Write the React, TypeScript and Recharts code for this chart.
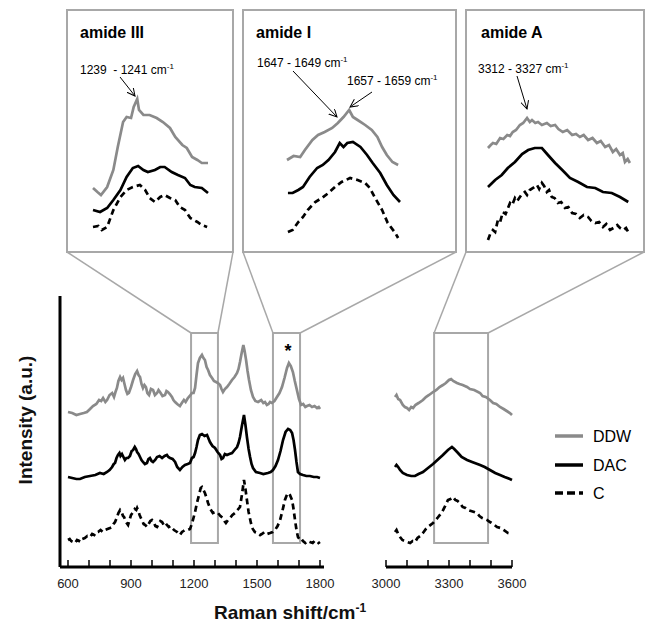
import React from "react";
import { LineChart, Line, XAxis, YAxis, ReferenceArea } from "recharts";

// x-axis ticks (Raman shift, cm-1)
const leftTicks = [600, 700, 800, 900, 1000, 1100, 1200, 1300, 1400, 1500, 1600, 1700, 1800];
const rightTicks = [3000, 3100, 3200, 3300, 3400, 3500, 3600];

// main panel, 600-1800 cm-1 (intensity a.u., traces offset)
const ddwLeftX = [600, 620, 640, 657, 675, 690, 705, 719, 735, 748, 758, 767, 778, 786, 798, 810, 819, 826, 833, 840, 848, 855, 862, 869, 876, 883, 890, 900, 910, 920, 929, 936, 943, 950, 957, 964, 971, 978, 986, 995, 1005, 1014, 1024, 1031, 1038, 1050, 1062, 1069, 1076, 1085, 1095, 1102, 1110, 1120, 1133, 1142, 1152, 1160, 1171, 1180, 1190, 1198, 1205, 1212, 1219, 1228, 1238, 1245, 1252, 1260, 1267, 1276, 1286, 1295, 1305, 1314, 1324, 1331, 1338, 1347, 1357, 1368, 1381, 1393, 1405, 1412, 1419, 1427, 1435, 1441, 1448, 1455, 1462, 1471, 1481, 1492, 1505, 1520, 1530, 1538, 1547, 1555, 1562, 1571, 1583, 1595, 1607, 1619, 1631, 1643, 1652, 1661, 1671, 1680, 1690, 1700, 1710, 1720, 1730, 1738, 1750, 1762, 1774, 1786, 1794, 1800];
const ddwLeftY = [155, 154, 152, 153, 154, 155, 158, 161, 163, 167, 166, 169, 165, 167, 172, 174, 170, 175, 179, 186, 190, 187, 189, 183, 177, 173, 174, 180, 187, 193, 196, 192, 190, 183, 179, 182, 180, 174, 172, 178, 177, 172, 174, 177, 175, 171, 172, 176, 175, 173, 170, 167, 165, 163, 161, 164, 167, 165, 169, 171, 174, 174, 179, 192, 204, 209, 212, 209, 207, 200, 197, 192, 189, 186, 185, 184, 182, 178, 175, 178, 180, 183, 187, 190, 194, 198, 205, 214, 222, 216, 207, 196, 187, 177, 170, 166, 165, 167, 164, 165, 162, 163, 165, 164, 166, 170, 174, 180, 189, 199, 204, 201, 195, 186, 177, 168, 162, 163, 160, 161, 162, 160, 161, 159, 160, 158];

const dacLeftX = [600, 620, 640, 657, 680, 705, 730, 752, 770, 786, 798, 810, 818, 824, 831, 838, 845, 850, 857, 864, 871, 878, 886, 895, 903, 910, 918, 924, 929, 936, 943, 950, 957, 966, 976, 983, 990, 998, 1005, 1015, 1024, 1036, 1048, 1060, 1071, 1078, 1086, 1098, 1110, 1120, 1133, 1145, 1157, 1170, 1181, 1190, 1198, 1205, 1212, 1219, 1228, 1238, 1250, 1262, 1270, 1276, 1288, 1300, 1312, 1324, 1331, 1338, 1347, 1357, 1368, 1381, 1393, 1405, 1412, 1419, 1428, 1438, 1445, 1452, 1460, 1467, 1474, 1481, 1495, 1514, 1530, 1552, 1565, 1576, 1588, 1600, 1612, 1624, 1636, 1648, 1658, 1667, 1674, 1681, 1688, 1695, 1705, 1719, 1735, 1752, 1770, 1786, 1800];
const dacLeftY = [90, 89, 88, 88, 90, 91, 92, 94, 93, 95, 97, 100, 103, 104, 109, 112, 114, 111, 113, 110, 107, 109, 109, 111, 116, 117, 120, 118, 115, 113, 110, 107, 105, 103, 104, 108, 109, 106, 105, 107, 110, 111, 109, 111, 112, 110, 109, 108, 105, 100, 97, 100, 102, 103, 104, 109, 110, 114, 120, 127, 132, 133, 131, 132, 128, 125, 121, 119, 115, 112, 108, 109, 113, 112, 113, 114, 117, 120, 124, 130, 141, 152, 142, 130, 118, 110, 103, 99, 95, 94, 93, 94, 95, 97, 101, 107, 116, 127, 135, 138, 137, 134, 127, 117, 105, 95, 93, 92, 91, 91, 90, 90, 89];

const cLeftX = [600, 608, 615, 625, 633, 643, 652, 660, 667, 680, 692, 705, 715, 725, 735, 743, 755, 765, 776, 788, 800, 810, 817, 824, 832, 840, 848, 855, 862, 867, 876, 886, 893, 900, 910, 918, 925, 929, 935, 941, 947, 952, 960, 968, 976, 984, 992, 1000, 1008, 1016, 1024, 1032, 1040, 1048, 1056, 1064, 1071, 1080, 1088, 1095, 1105, 1112, 1119, 1126, 1133, 1143, 1150, 1157, 1170, 1181, 1188, 1195, 1205, 1214, 1225, 1232, 1238, 1245, 1252, 1260, 1267, 1278, 1290, 1302, 1314, 1326, 1338, 1345, 1352, 1362, 1371, 1383, 1395, 1407, 1419, 1428, 1438, 1445, 1452, 1460, 1471, 1480, 1490, 1505, 1515, 1524, 1535, 1548, 1562, 1575, 1586, 1598, 1610, 1622, 1633, 1640, 1648, 1657, 1667, 1674, 1681, 1688, 1695, 1705, 1712, 1719, 1730, 1740, 1752, 1765, 1774, 1786, 1793, 1800];
const cLeftY = [27, 28, 26, 25, 24, 27, 26, 29, 28, 29, 31, 30, 33, 32, 35, 35, 37, 35, 37, 38, 39, 40, 43, 45, 49, 54, 57, 55, 51, 50, 45, 42, 47, 52, 55, 58, 57, 59, 56, 52, 49, 47, 43, 42, 40, 43, 46, 47, 45, 41, 40, 43, 46, 45, 42, 44, 42, 40, 41, 39, 37, 36, 35, 33, 32, 35, 36, 37, 37, 38, 42, 47, 55, 64, 73, 79, 80, 77, 74, 69, 64, 58, 54, 55, 54, 51, 49, 46, 44, 47, 49, 52, 54, 57, 60, 72, 87, 78, 67, 55, 44, 38, 35, 34, 32, 33, 35, 33, 34, 35, 37, 41, 47, 57, 67, 71, 74, 72, 67, 58, 47, 37, 30, 27, 28, 26, 24, 26, 25, 24, 26, 26, 24, 25];

// main panel, 3000-3600 cm-1
const ddwRightX = [3043, 3050, 3058, 3067, 3080, 3090, 3100, 3110, 3120, 3129, 3140, 3155, 3176, 3190, 3205, 3224, 3240, 3255, 3271, 3285, 3300, 3310, 3320, 3338, 3350, 3365, 3386, 3400, 3420, 3448, 3460, 3475, 3495, 3510, 3525, 3543, 3560, 3575, 3590, 3600];
const ddwRightY = [170, 172, 168, 167, 162, 160, 159, 157, 160, 159, 162, 164, 167, 170, 172, 175, 177, 180, 182, 184, 187, 188, 186, 184, 183, 182, 180, 178, 177, 174, 171, 170, 167, 164, 163, 160, 158, 156, 154, 152];
const dacRightX = [3043, 3050, 3058, 3067, 3080, 3100, 3120, 3138, 3155, 3176, 3200, 3224, 3250, 3271, 3295, 3314, 3325, 3343, 3360, 3386, 3410, 3448, 3470, 3495, 3520, 3543, 3565, 3590, 3600];
const dacRightY = [100, 102, 100, 97, 94, 92, 91, 91, 93, 95, 99, 103, 108, 112, 117, 120, 118, 114, 110, 107, 105, 102, 100, 97, 94, 92, 90, 88, 87];
const cRightX = [3043, 3050, 3058, 3067, 3078, 3090, 3100, 3115, 3127, 3138, 3150, 3163, 3176, 3190, 3205, 3224, 3245, 3267, 3282, 3295, 3307, 3319, 3330, 3341, 3352, 3365, 3378, 3390, 3405, 3420, 3433, 3445, 3458, 3481, 3495, 3510, 3529, 3545, 3560, 3581, 3600];
const cRightY = [35, 37, 33, 30, 27, 26, 25, 24, 26, 25, 29, 31, 34, 38, 41, 44, 49, 55, 61, 67, 68, 70, 67, 66, 64, 60, 59, 57, 56, 55, 54, 51, 49, 47, 45, 43, 40, 39, 37, 34, 33];

// inset: amide III
const ddwA3X = [1190, 1195, 1199, 1206, 1213, 1218, 1224, 1228, 1233, 1236, 1240, 1242, 1247, 1254, 1262, 1269, 1277, 1283, 1291, 1296, 1302, 1308, 1313, 1320];
const ddwA3Y = [64, 60, 57, 65, 82, 105, 130, 135, 134, 145, 153, 142, 137, 137, 134, 130, 124, 115, 107, 104, 95, 92, 89, 89];
const dacA3X = [1190, 1198, 1206, 1213, 1221, 1228, 1235, 1241, 1247, 1252, 1260, 1266, 1271, 1279, 1286, 1294, 1300, 1305, 1313, 1320];
const dacA3Y = [42, 40, 44, 52, 62, 75, 84, 86, 82, 80, 82, 85, 85, 80, 77, 74, 67, 65, 64, 59];
const cA3X = [1190, 1196, 1200, 1206, 1213, 1221, 1228, 1235, 1243, 1249, 1254, 1260, 1266, 1271, 1277, 1283, 1288, 1294, 1300, 1308, 1313, 1319];
const cA3Y = [25, 26, 22, 25, 42, 55, 62, 65, 67, 62, 54, 50, 55, 57, 54, 52, 45, 42, 34, 30, 27, 25];

// inset: amide I
const ddwA1X = [1580, 1587, 1594, 1599, 1607, 1613, 1620, 1628, 1634, 1640, 1646, 1650, 1655, 1663, 1670, 1676, 1681, 1686, 1692, 1698];
const ddwA1Y = [92, 96, 95, 102, 112, 117, 120, 124, 129, 135, 142, 135, 132, 127, 122, 115, 105, 97, 90, 87];
const dacA1X = [1581, 1586, 1592, 1597, 1604, 1612, 1618, 1624, 1631, 1636, 1640, 1644, 1650, 1658, 1665, 1671, 1679, 1686, 1693, 1700];
const dacA1Y = [59, 59, 62, 65, 75, 84, 87, 92, 100, 109, 105, 109, 110, 105, 97, 89, 79, 67, 57, 50];
const cA1X = [1581, 1586, 1592, 1597, 1602, 1610, 1617, 1624, 1631, 1638, 1647, 1655, 1663, 1668, 1673, 1681, 1687, 1695, 1698];
const cA1Y = [20, 22, 30, 35, 42, 50, 54, 59, 65, 70, 74, 72, 69, 64, 55, 42, 29, 19, 14];

// inset: amide A
const ddwAAX = [3230, 3235, 3239, 3245, 3252, 3258, 3265, 3270, 3275, 3281, 3288, 3294, 3301, 3306, 3310, 3316, 3321, 3328, 3337, 3344, 3352, 3358, 3366, 3374, 3383, 3390, 3397, 3404, 3412, 3420, 3428, 3435, 3443, 3450, 3457, 3463, 3470, 3475, 3479, 3484, 3488];
const ddwAAY = [104, 107, 109, 108, 114, 113, 117, 116, 120, 122, 127, 129, 134, 130, 132, 129, 130, 127, 129, 126, 127, 123, 120, 122, 117, 118, 115, 117, 112, 114, 109, 111, 105, 107, 100, 103, 97, 99, 90, 93, 89];
const dacAAX = [3230, 3243, 3255, 3266, 3279, 3292, 3303, 3315, 3328, 3339, 3352, 3365, 3379, 3394, 3410, 3425, 3439, 3455, 3470, 3485];
const dacAAY = [65, 72, 77, 84, 90, 98, 102, 104, 104, 97, 89, 82, 74, 70, 65, 64, 60, 59, 55, 50];
const cAAX = [3230, 3234, 3239, 3243, 3248, 3252, 3257, 3262, 3270, 3274, 3279, 3283, 3288, 3292, 3297, 3301, 3306, 3312, 3319, 3323, 3328, 3332, 3337, 3341, 3346, 3351, 3357, 3363, 3370, 3376, 3383, 3390, 3397, 3404, 3412, 3418, 3425, 3432, 3439, 3445, 3452, 3458, 3465, 3470, 3476, 3481, 3485];
const cAAY = [12, 18, 22, 20, 32, 30, 40, 38, 49, 47, 54, 51, 55, 58, 60, 57, 62, 64, 67, 63, 69, 66, 60, 62, 55, 54, 49, 50, 44, 45, 39, 38, 34, 37, 35, 31, 29, 30, 25, 28, 22, 24, 27, 24, 22, 24, 20];

// highlighted regions
const amide3Range = [1186, 1314];
const amide1Range = [1576, 1705];
const amideARange = [3229, 3486];
const boxLow = 24;
const boxHigh = 234;

const pts = (xs: number[], ys: number[]) => xs.map((x, i) => ({ x, y: ys[i] }));

const FONT = "Arial, 'Liberation Sans', Helvetica, sans-serif";
const GREY = "#8a8a8a";
const FRAME = "#a8a8a8";

// layout (px)
const TOP = 296;
const BOTTOM = 567;
const leftPx = (v: number) => 68 + ((v - 600) * 252) / 1200;
const rightPx = (v: number) => 386 + ((v - 3000) * 126) / 600;
const mainPy = (v: number) => BOTTOM - ((BOTTOM - TOP) * v) / 271;

const AxisTick = (props: any) => {
  const { x, y, payload } = props;
  const v = payload.value;
  const show = v % 300 === 0;
  return (
    <g>
      <line x1={x} x2={x} y1={y - 7} y2={y} stroke="#000" strokeWidth={1.5} />
      {show && (
        <text x={x} y={y + 21} textAnchor="middle" fontSize={13} fill="#222" fontFamily={FONT}>
          {v}
        </text>
      )}
    </g>
  );
};

const series = (ddw: any[], dac: any[], c: any[]) => [
  <Line key="ddw" data={ddw} dataKey="y" type="linear" stroke={GREY} strokeWidth={2.7} dot={false} isAnimationActive={false} />,
  <Line key="dac" data={dac} dataKey="y" type="linear" stroke="#000" strokeWidth={2.7} dot={false} isAnimationActive={false} />,
  <Line key="c" data={c} dataKey="y" type="linear" stroke="#000" strokeWidth={2.7} strokeDasharray="6 4" dot={false} isAnimationActive={false} />,
];

const insets = [
  { left: 67, right: 233, m: { l: 26, r: 25 }, range: [1190, 1320], d: [pts(ddwA3X, ddwA3Y), pts(dacA3X, dacA3Y), pts(cA3X, cA3Y)] },
  { left: 243, right: 456, m: { l: 44, r: 56 }, range: [1580, 1700], d: [pts(ddwA1X, ddwA1Y), pts(dacA1X, dacA1Y), pts(cA1X, cA1Y)] },
  { left: 466, right: 645, m: { l: 22, r: 14 }, range: [3230, 3490], d: [pts(ddwAAX, ddwAAY), pts(dacAAX, dacAAY), pts(cAAX, cAAY)] },
];

const Sup = ({ children }: { children: string }) => (
  <tspan dy={-5} fontSize={8}>
    {children}
  </tspan>
);

export default function App() {
  const b = [
    { l: leftPx(amide3Range[0]), r: leftPx(amide3Range[1]) },
    { l: leftPx(amide1Range[0]), r: leftPx(amide1Range[1]) },
    { l: rightPx(amideARange[0]), r: rightPx(amideARange[1]) },
  ];
  const bt = mainPy(boxHigh);
  const fTop = 10;
  const fBot = 252;
  return (
    <div style={{ position: "absolute", left: 0, top: 0, width: 645, height: 625, background: "#fff", fontFamily: FONT }}>
      <div style={{ position: "absolute", left: 0, top: 0 }}>
        <LineChart width={340} height={625} margin={{ top: TOP, right: 16, bottom: 625 - BOTTOM - 30, left: 59 }}>
          <XAxis
            dataKey="x"
            type="number"
            domain={[600, 1800]}
            ticks={leftTicks}
            interval={0}
            padding={{ left: 8, right: 4 }}
            height={30}
            tickSize={0}
            tickMargin={0}
            tickLine={false}
            axisLine={{ stroke: "#000", strokeWidth: 3 }}
            tick={<AxisTick />}
          />
          <YAxis type="number" domain={[0, 271]} width={1} tick={false} tickLine={false} axisLine={{ stroke: "#000", strokeWidth: 3 }} />
          <ReferenceArea x1={amide3Range[0]} x2={amide3Range[1]} y1={boxLow} y2={boxHigh} fill="none" fillOpacity={0} stroke={FRAME} strokeWidth={2} />
          <ReferenceArea x1={amide1Range[0]} x2={amide1Range[1]} y1={boxLow} y2={boxHigh} fill="none" fillOpacity={0} stroke={FRAME} strokeWidth={2} />
          {series(pts(ddwLeftX, ddwLeftY), pts(dacLeftX, dacLeftY), pts(cLeftX, cLeftY))}
        </LineChart>
      </div>
      <div style={{ position: "absolute", left: 370, top: 0 }}>
        <LineChart width={160} height={625} margin={{ top: TOP, right: 18, bottom: 625 - BOTTOM - 30, left: 16 }}>
          <XAxis
            dataKey="x"
            type="number"
            domain={[3000, 3600]}
            ticks={rightTicks}
            interval={0}
            height={30}
            tickSize={0}
            tickMargin={0}
            tickLine={false}
            axisLine={{ stroke: "#000", strokeWidth: 3 }}
            tick={<AxisTick />}
          />
          <YAxis type="number" domain={[0, 271]} hide />
          <ReferenceArea x1={amideARange[0]} x2={amideARange[1]} y1={boxLow} y2={boxHigh} fill="none" fillOpacity={0} stroke={FRAME} strokeWidth={2} />
          {series(pts(ddwRightX, ddwRightY), pts(dacRightX, dacRightY), pts(cRightX, cRightY))}
        </LineChart>
      </div>
      {insets.map((ins, i) => (
        <div key={i} style={{ position: "absolute", left: ins.left, top: fTop }}>
          <LineChart width={ins.right - ins.left} height={fBot - fTop} margin={{ top: 0, right: ins.m.r, bottom: 0, left: ins.m.l }}>
            <XAxis dataKey="x" type="number" domain={ins.range} hide />
            <YAxis type="number" domain={[0, 242]} hide />
            {series(ins.d[0], ins.d[1], ins.d[2])}
          </LineChart>
        </div>
      ))}
      <svg width={645} height={625} style={{ position: "absolute", left: 0, top: 0, pointerEvents: "none" }} fontFamily={FONT}>
        <defs>
          <marker id="arr" markerUnits="userSpaceOnUse" markerWidth={10} markerHeight={10} refX={8} refY={4} orient="auto">
            <path d="M0,0 L8,4 L0,8" fill="none" stroke="#000" strokeWidth={1} />
          </marker>
        </defs>
        {/* inset frames */}
        {insets.map((ins, i) => (
          <rect key={i} x={ins.left} y={fTop} width={Math.min(ins.right, 644) - ins.left} height={fBot - fTop} fill="none" stroke={FRAME} strokeWidth={2} />
        ))}
        {/* connectors */}
        {insets.map((ins, i) => (
          <g key={i} stroke={FRAME} strokeWidth={1.5}>
            <line x1={ins.left} y1={fBot} x2={b[i].l} y2={bt} />
            <line x1={Math.min(ins.right, 644)} y1={fBot} x2={b[i].r} y2={bt} />
          </g>
        ))}
        {/* inset titles */}
        <text x={80} y={38} fontSize={16} fontWeight="bold">amide III</text>
        <text x={256} y={38} fontSize={16} fontWeight="bold">amide I</text>
        <text x={481} y={38} fontSize={16} fontWeight="bold">amide A</text>
        {/* annotations */}
        <text x={80} y={74} fontSize={12}>
          1239 &#160;- 1241 cm<Sup>-1</Sup>
        </text>
        <line x1={120} y1={77} x2={135} y2={96} stroke="#000" strokeWidth={1} markerEnd="url(#arr)" />
        <text x={257} y={67} fontSize={12}>
          1647 - 1649 cm<Sup>-1</Sup>
        </text>
        <line x1={293} y1={71} x2={337} y2={117} stroke="#000" strokeWidth={1} markerEnd="url(#arr)" />
        <text x={347} y={85} fontSize={12}>
          1657 - 1659 cm<Sup>-1</Sup>
        </text>
        <line x1={372} y1={92} x2={350} y2={107} stroke="#000" strokeWidth={1} markerEnd="url(#arr)" />
        <text x={478} y={73} fontSize={12}>
          3312 - 3327 cm<Sup>-1</Sup>
        </text>
        <line x1={517} y1={76} x2={527} y2={109} stroke="#000" strokeWidth={1} markerEnd="url(#arr)" />
        {/* asterisk */}
        <text x={288} y={357} fontSize={18} fontWeight="bold" textAnchor="middle">*</text>
        {/* axis titles */}
        <text x={0} y={0} transform="translate(32,420) rotate(-90)" fontSize={19} fontWeight="bold" textAnchor="middle" fill="#111">
          Intensity (a.u.)
        </text>
        <text x={290} y={619} fontSize={19} fontWeight="bold" textAnchor="middle" fill="#111">
          Raman shift/cm<tspan dy={-7} fontSize={12}>-1</tspan>
        </text>
        {/* legend */}
        <line x1={555} x2={583} y1={436} y2={436} stroke={GREY} strokeWidth={3.5} />
        <text x={593} y={442} fontSize={16}>DDW</text>
        <line x1={555} x2={583} y1={465} y2={465} stroke="#000" strokeWidth={3.5} />
        <text x={593} y={471} fontSize={16}>DAC</text>
        <line x1={555} x2={583} y1={493} y2={493} stroke="#000" strokeWidth={3.5} strokeDasharray="8 4" />
        <text x={593} y={499} fontSize={16}>C</text>
      </svg>
    </div>
  );
}
